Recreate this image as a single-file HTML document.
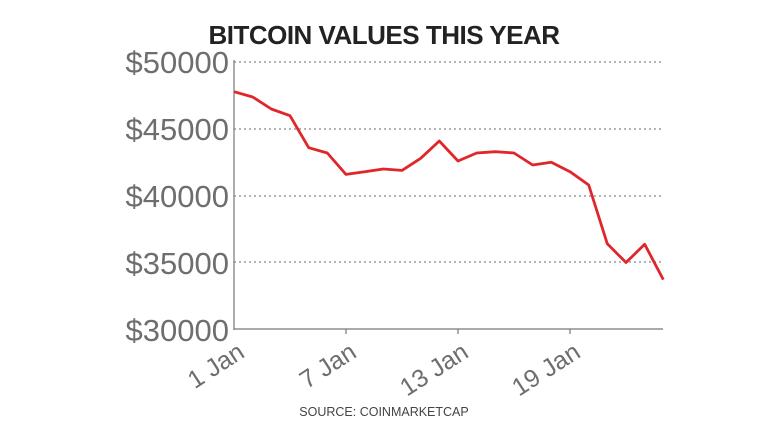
<!DOCTYPE html>
<html><head><style>
html,body{margin:0;padding:0;background:#fff;}
</style></head><body>
<svg width="768" height="432" viewBox="0 0 768 432" xmlns="http://www.w3.org/2000/svg" font-family="Liberation Sans, sans-serif">
<text x="384" y="44" text-anchor="middle" font-size="26" font-weight="bold" fill="#222" letter-spacing="-0.5">BITCOIN VALUES THIS YEAR</text>
<g stroke="#888" stroke-width="1.2" stroke-dasharray="2,3">
<line x1="234" y1="62" x2="663" y2="62"/>
<line x1="234" y1="129" x2="663" y2="129"/>
<line x1="234" y1="196" x2="663" y2="196"/>
<line x1="234" y1="262" x2="663" y2="262"/>
</g>
<line x1="234" y1="60" x2="234" y2="330" stroke="#777" stroke-width="1.2"/>
<line x1="234" y1="329" x2="663" y2="329" stroke="#777" stroke-width="1.2"/>
<g stroke="#777" stroke-width="1.2">
<line x1="346" y1="329" x2="346" y2="334"/><line x1="458" y1="329" x2="458" y2="334"/><line x1="570" y1="329" x2="570" y2="334"/>
</g>
<g font-size="31" fill="#6e6e6e" text-anchor="end">
<text x="229" y="73">$50000</text>
<text x="229" y="140">$45000</text>
<text x="229" y="207">$40000</text>
<text x="229" y="274">$35000</text>
<text x="229" y="341">$30000</text>
</g>
<g font-size="25" fill="#6e6e6e" text-anchor="end">
<text transform="translate(246,356) rotate(-33)">1 Jan</text>
<text transform="translate(358,356) rotate(-33)">7 Jan</text>
<text transform="translate(470,356) rotate(-33)">13 Jan</text>
<text transform="translate(582,356) rotate(-33)">19 Jan</text>
</g>
<polyline fill="none" stroke="#e0262a" stroke-width="2.8" stroke-linejoin="round" points="234,91.7 252.7,97 271.3,109 290,115.7 308.7,147.7 327.3,153 346,174.4 364.7,171.7 383.3,169 402,170.4 420.7,158.3 439.3,141 458,161 476.7,153 495.3,151.7 514,153 532.7,165 551.3,162.3 570,171.7 588.7,185 607.3,243.8 626,262.5 644.7,244.3 663.3,279.6"/>
<text x="384" y="416" text-anchor="middle" font-size="12.5" fill="#444">SOURCE: COINMARKETCAP</text>
</svg>
</body></html>
